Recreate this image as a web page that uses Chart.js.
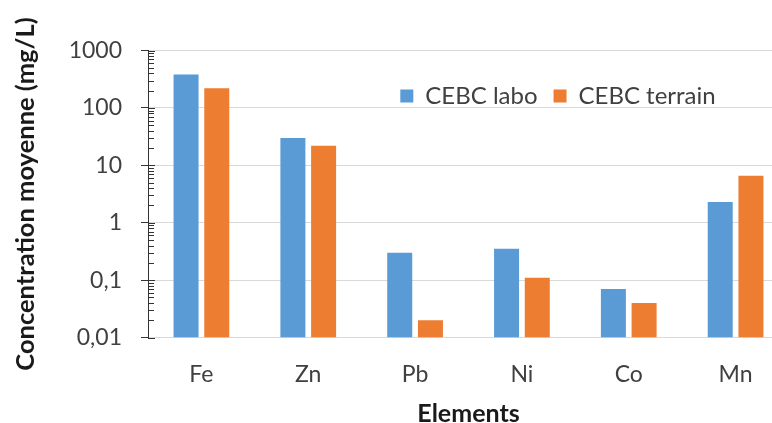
<!DOCTYPE html>
<html><head><meta charset="utf-8">
<script src="https://cdn.jsdelivr.net/npm/chart.js@4"></script>
<style>html,body{margin:0;padding:0;background:#fff;overflow:hidden}#wrap{width:800px;height:423px}</style>
</head><body><div id="wrap"><canvas id="c" width="800" height="423"></canvas></div>
<script>
const categories = ["Fe", "Zn", "Pb", "Ni", "Co", "Mn"];
const seriesNames = ["CEBC labo", "CEBC terrain"];
const laboValues = [380, 30, 0.3, 0.35, 0.07, 2.3];
const terrainValues = [220, 22, 0.02, 0.11, 0.04, 6.6];
const yTickValues = [0.01, 0.1, 1, 10, 100, 1000];
const yTickLabels = ["0,01", "0,1", "1", "10", "100", "1000"];
const xTitle = "Elements";
const yTitle = "Concentration moyenne (mg/L)";

const FONT = "Lato";
const TXT = "#404040";

const minorTicks = {
  id: "minorTicks",
  afterDraw(chart) {
    const ys = chart.scales.y, ctx = chart.ctx, x0 = chart.chartArea.left;
    ctx.save();
    ctx.strokeStyle = "#333";
    ctx.lineWidth = 1;
    ctx.beginPath();
    for (let i = 0; i < yTickValues.length; i++) {
      const v = yTickValues[i];
      const p = Math.round(ys.getPixelForValue(v)) + 0.5;
      ctx.moveTo(x0, p); ctx.lineTo(x0 + 7, p);
      if (i < yTickValues.length - 1) {
        for (let m = 2; m <= 9; m++) {
          const q = Math.round(ys.getPixelForValue(v * m)) + 0.5;
          ctx.moveTo(x0, q); ctx.lineTo(x0 + 6, q);
        }
      }
    }
    ctx.stroke();
    ctx.restore();
  }
};

const legendPlace = {
  id: "legendPlace",
  beforeLayout(chart) {
    if (chart.legend) chart.legend.isHorizontal = () => true;
  },
  afterLayout(chart) {
    const lg = chart.legend;
    if (!lg) return;
    const h = lg.height;
    lg.left = 348; lg.right = 768; lg.width = 420;
    lg.top = 68; lg.bottom = 68 + h;
  }
};

new Chart(document.getElementById("c"), {
  type: "bar",
  data: {
    labels: categories,
    datasets: [
      { label: seriesNames[0], data: laboValues, backgroundColor: "#5B9BD5", borderWidth: 0 },
      { label: seriesNames[1], data: terrainValues, backgroundColor: "#ED7D31", borderWidth: 0 }
    ]
  },
  options: {
    responsive: false,
    animation: false,
    devicePixelRatio: 1,
    categoryPercentage: 0.575,
    barPercentage: 0.814,
    layout: { padding: { left: 0, right: 11, top: 50.5, bottom: 0 } },
    plugins: {
      legend: {
        position: "chartArea",
        align: "center",
        labels: {
          boxWidth: 13, boxHeight: 13, padding: 16,
          color: TXT, font: { family: FONT, size: 24 }
        }
      },
      tooltip: { enabled: false }
    },
    scales: {
      x: {
        type: "category",
        grid: { display: true, drawOnChartArea: false, drawTicks: false },
        border: { display: true, color: "#d9d9d9", width: 1 },
        ticks: { color: TXT, font: { family: FONT, size: 23 }, padding: 23, maxRotation: 0 },
        title: { display: true, text: xTitle, color: "#1a1a1a", font: { family: FONT, size: 25, weight: "bold", lineHeight: 1 }, padding: { top: 0, bottom: -3 } },
        afterFit(s) { s.height = 85.5; }
      },
      y: {
        type: "logarithmic",
        min: 0.01, max: 1000,
        afterBuildTicks(s) { s.ticks = yTickValues.map(v => ({ value: v, major: true })); },
        grid: { color: "#d9d9d9", lineWidth: 1, tickColor: "#333", tickLength: 7, drawTicks: true },
        border: { display: true, color: "#333", width: 1 },
        ticks: {
          color: TXT, font: { family: FONT, size: 23 }, padding: 19, autoSkip: false,
          callback(value, index) { return yTickLabels[index]; }
        },
        title: { display: true, text: yTitle, color: "#1a1a1a", font: { family: FONT, size: 25.5, weight: "bold", lineHeight: 1.2 }, padding: { top: 10.5, bottom: 0 } },
        afterFit(s) { s.width = 148; }
      }
    }
  },
  plugins: [minorTicks, legendPlace]
});
</script></body></html>
